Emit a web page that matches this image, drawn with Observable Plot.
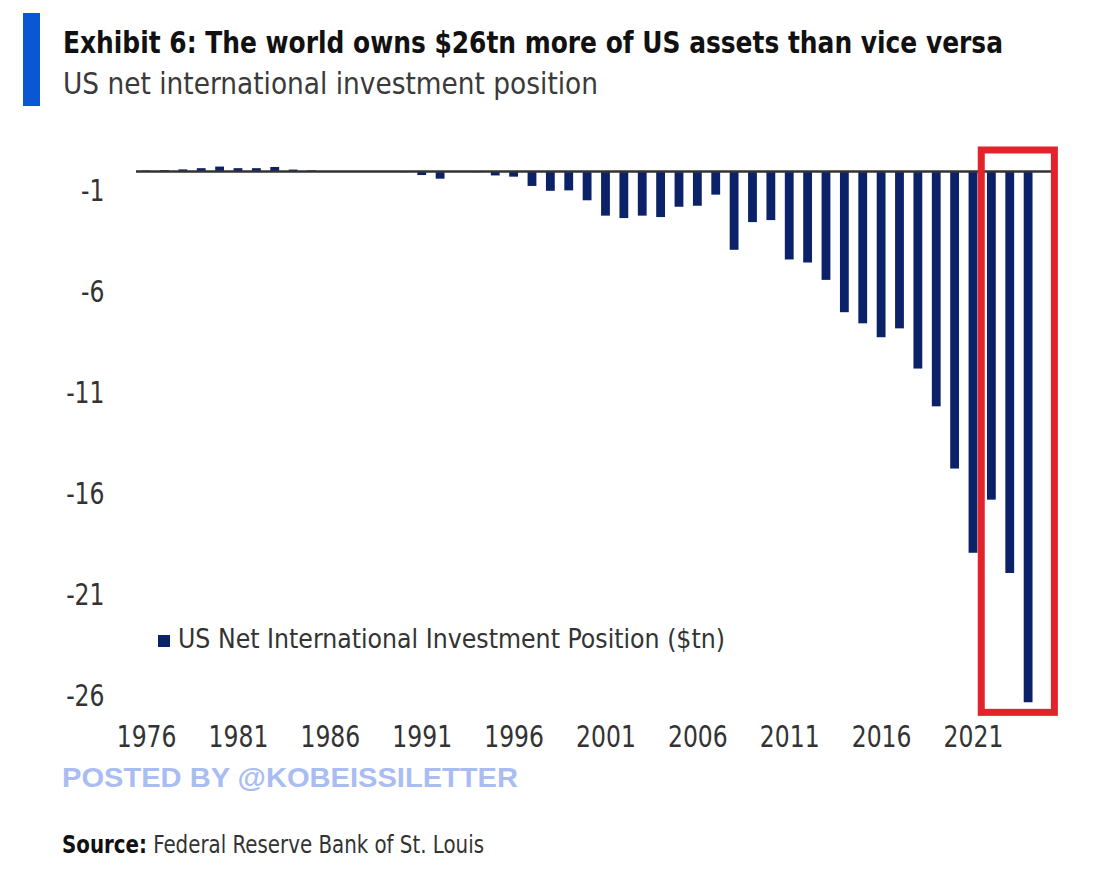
<!DOCTYPE html>
<html>
<head>
<meta charset="utf-8">
<script src="https://cdn.jsdelivr.net/npm/d3@7"></script>
<script src="https://cdn.jsdelivr.net/npm/@observablehq/plot@0.6"></script>
<style>
  html, body { margin: 0; padding: 0; background: #fff; }
  #page { position: relative; width: 1115px; height: 875px; overflow: hidden; background: #fff;
          font-family: "Liberation Sans Narrow", "DejaVu Sans Condensed", "Liberation Sans", sans-serif; }
  .abs { position: absolute; white-space: nowrap; line-height: 1; }
  .fit { display: inline-block; transform-origin: 0 50%; }
  #bar { left: 23px; top: 13px; width: 17px; height: 93px; background: #0b56d2; }
  #title { left: 63px; top: 27px; font-size: 31px; font-weight: bold; color: #111; }
  #subtitle { left: 63px; top: 69px; font-size: 30px; color: #3a3a3a; }
  #chart { left: 0; top: 110px; }
  #legend { left: 158px; top: 626px; font-size: 26px; color: #333; }
  #legend .sw { position: absolute; left: 0; top: 9px; width: 12px; height: 12px; background: #0c2268; }
  #legend .fit { position: absolute; left: 20px; top: 0; }
  #watermark { left: 62px; top: 764px; font-family: "Liberation Sans", Arial, sans-serif; font-weight: bold; font-size: 28px; color: #a9bdf2; }
  #source { left: 62px; top: 833px; font-size: 24px; color: #333; }
  #source b { color: #111; }
</style>
</head>
<body>
<div id="page">
  <div id="bar" class="abs"></div>
  <div id="title" class="abs"><span class="fit" data-w="940">Exhibit 6: The world owns $26tn more of US assets than vice versa</span></div>
  <div id="subtitle" class="abs"><span class="fit" data-w="535">US net international investment position</span></div>
  <div id="chart" class="abs"></div>
  <div id="legend" class="abs"><span class="sw"></span><span class="fit" data-w="547">US Net International Investment Position ($tn)</span></div>
  <div id="watermark" class="abs"><span class="fit" data-w="456">POSTED BY @KOBEISSILETTER</span></div>
  <div id="source" class="abs"><span class="fit" data-w="422"><b>Source:</b> Federal Reserve Bank of St. Louis</span></div>
</div>
<script>
// ---- data (US net international investment position, $tn) ----
const years = [1976, 1977, 1978, 1979, 1980, 1981, 1982, 1983, 1984, 1985,
               1986, 1987, 1988, 1989, 1990, 1991, 1992, 1993, 1994, 1995,
               1996, 1997, 1998, 1999, 2000, 2001, 2002, 2003, 2004, 2005,
               2006, 2007, 2008, 2009, 2010, 2011, 2012, 2013, 2014, 2015,
               2016, 2017, 2018, 2019, 2020, 2021, 2022, 2023, 2024];
const niip  = [0.02, 0.04, 0.08, 0.14, 0.22, 0.14, 0.14, 0.2, 0.07, 0.03,
               -0.02, -0.03, -0.02, -0.03, -0.06, -0.2, -0.38, -0.05, -0.06, -0.22,
               -0.28, -0.74, -0.98, -0.96, -1.45, -2.21, -2.33, -2.21, -2.28, -1.77,
               -1.72, -1.17, -3.9, -2.53, -2.43, -4.38, -4.53, -5.39, -6.99, -7.54,
               -8.23, -7.79, -9.78, -11.65, -14.73, -18.9, -16.27, -19.9, -26.3];
const xTicks = [1976, 1981, 1986, 1991, 1996, 2001, 2006, 2011, 2016, 2021];
const yTicks = [-1, -6, -11, -16, -21, -26];
// highlighted period (red box): years 2022-2024
const highlight = [{x1: 2021.45, x2: 2025.43, y1: -26.8, y2: 1.04}];

const data = years.map((year, i) => ({year, value: niip[i]}));
const halfBar = 0.24;

const chart = Plot.plot({
  width: 1115,
  height: 650,
  marginLeft: 136,
  marginRight: 63,
  marginTop: 40.8,
  marginBottom: 43.6,
  style: {fontFamily: '"Liberation Sans Narrow", "DejaVu Sans Condensed", sans-serif', background: "transparent", color: "#333"},
  x: {type: "linear", domain: [1975.45, 2025.3]},
  y: {domain: [-27, 1]},
  marks: [
    Plot.rectY(data, {x1: d => d.year - halfBar, x2: d => d.year + halfBar, y1: 0, y2: "value", fill: "#0c2268"}),
    Plot.ruleY([0], {stroke: "#333", strokeWidth: 2.5}),
    Plot.rect(highlight, {x1: "x1", x2: "x2", y1: "y1", y2: "y2", fill: "none", stroke: "#e3232c", strokeWidth: 7}),
    Plot.axisX({ticks: xTicks, tickFormat: d => String(d), tickSize: 0, tickPadding: 8.6, fontSize: 30, label: null}),
    Plot.axisY({ticks: yTicks, tickFormat: d => String(d), tickSize: 0, tickPadding: 32, fontSize: 30, label: null})
  ]
});
document.getElementById("chart").appendChild(chart);

// condense tick labels horizontally around their anchor (reference uses a condensed face)
chart.querySelectorAll('g[aria-label$="tick label"] text').forEach(t => {
  const tr = t.getAttribute("transform") || "";
  t.setAttribute("transform", tr + " scale(0.87,1)");
});

// fit HTML texts to the reference widths
document.querySelectorAll(".fit").forEach(el => {
  const w = el.getBoundingClientRect().width;
  const target = +el.dataset.w;
  if (w > 0) el.style.transform = `scaleX(${target / w})`;
});
</script>
</body>
</html>
